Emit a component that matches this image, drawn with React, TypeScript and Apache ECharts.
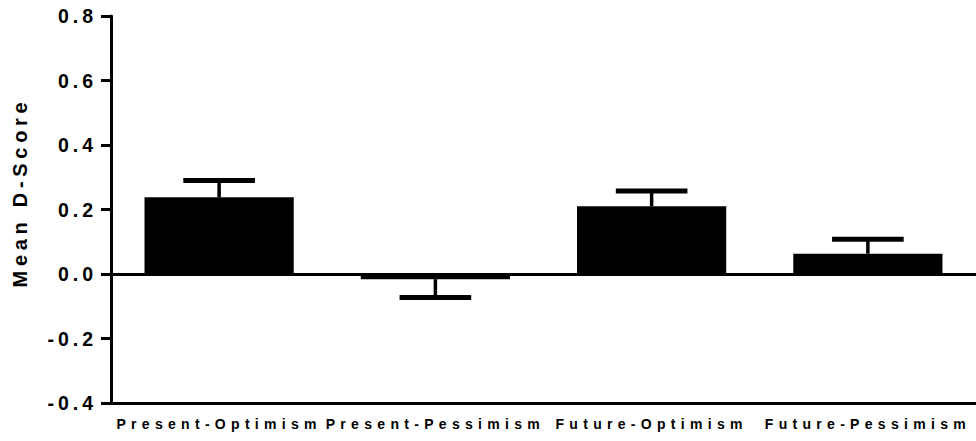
import React, { useEffect, useRef } from "react";
import * as echarts from "echarts";

const categories = ["Present-Optimism", "Present-Pessimism", "Future-Optimism", "Future-Pessimism"];
const means = [0.238, -0.016, 0.21, 0.063];
const sems = [0.052, 0.057, 0.047, 0.045];
const yMin = -0.4;
const yMax = 0.8;
const yStep = 0.2;
const yTitle = "Mean D-Score";

const FONT = "'Liberation Sans', Arial, sans-serif";

export default function App() {
  const ref = useRef<HTMLDivElement>(null);
  useEffect(() => {
    if (!ref.current) return;
    const chart = echarts.init(ref.current, null, { renderer: "svg" });
    const errData = means.map((m, i) => [i, m, m >= 0 ? m + sems[i] : m - sems[i]]);
    chart.setOption({
      animation: false,
      backgroundColor: "#ffffff",
      grid: { left: 111, width: 870, top: 16, bottom: 38, containLabel: false },
      xAxis: {
        type: "category",
        data: categories,
        axisLine: { onZero: false, lineStyle: { color: "#000", width: 3 } },
        axisTick: { alignWithLabel: true, length: 9, lineStyle: { color: "#000", width: 3 } },
        axisLabel: {
          color: "#000",
          fontFamily: FONT,
          fontWeight: "bold",
          fontSize: 14,
          margin: 14,
          interval: 0,
        },
        splitLine: { show: false },
      },
      yAxis: {
        type: "value",
        min: yMin,
        max: yMax,
        interval: yStep,
        name: yTitle,
        nameLocation: "middle",
        nameGap: 81,
        nameTextStyle: {
          color: "#000",
          fontFamily: FONT,
          fontWeight: "bold",
          fontSize: 20,
          padding: [0, 0, 0, 34],
        },
        axisLine: { show: true, lineStyle: { color: "#000", width: 3 } },
        axisTick: { show: true, length: 10, lineStyle: { color: "#000", width: 3 } },
        axisLabel: {
          color: "#000",
          fontFamily: FONT,
          fontWeight: "bold",
          fontSize: 19.5,
          margin: 14,
          formatter: (v: number) => v.toFixed(1),
        },
        splitLine: { show: false },
      },
      series: [
        {
          type: "bar",
          data: means,
          barCategoryGap: "31%",
          itemStyle: { color: "#000" },
          markLine: {
            silent: true,
            symbol: "none",
            label: { show: false },
            lineStyle: { color: "#000", width: 3, type: "solid" },
            data: [{ yAxis: 0 }],
          },
          z: 2,
        },
        {
          type: "custom",
          data: errData,
          z: 3,
          renderItem: (params: any, api: any) => {
            const idx = api.value(0);
            const m = api.value(1);
            const e = api.value(2);
            const p0 = api.coord([idx, m]);
            const p1 = api.coord([idx, e]);
            const band = api.size([1, 0])[0];
            const half = band * 0.69 * 0.24;
            return {
              type: "group",
              children: [
                {
                  type: "line",
                  shape: { x1: p0[0], y1: p0[1], x2: p1[0], y2: p1[1] },
                  style: { stroke: "#000", lineWidth: 3.5 },
                },
                {
                  type: "line",
                  shape: { x1: p1[0] - half, y1: p1[1], x2: p1[0] + half, y2: p1[1] },
                  style: { stroke: "#000", lineWidth: 5 },
                },
              ],
            };
          },
        },
      ],
    });
    const applySpacing = () => {
      const el = ref.current;
      if (!el) return;
      el.querySelectorAll("text").forEach((t) => {
        const s = t.textContent || "";
        if (categories.indexOf(s) >= 0) t.style.letterSpacing = "5.3px";
        else if (s === yTitle) t.style.letterSpacing = "4.7px";
        else t.style.letterSpacing = "4px";
      });
    };
    chart.on("finished", applySpacing);
    applySpacing();
    const tm = setTimeout(applySpacing, 50);
    return () => {
      clearTimeout(tm);
      chart.dispose();
    };
  }, []);
  return (
    <div
      ref={ref}
      style={{ position: "absolute", left: 0, top: 0, width: 976, height: 441, background: "#fff" }}
    />
  );
}
